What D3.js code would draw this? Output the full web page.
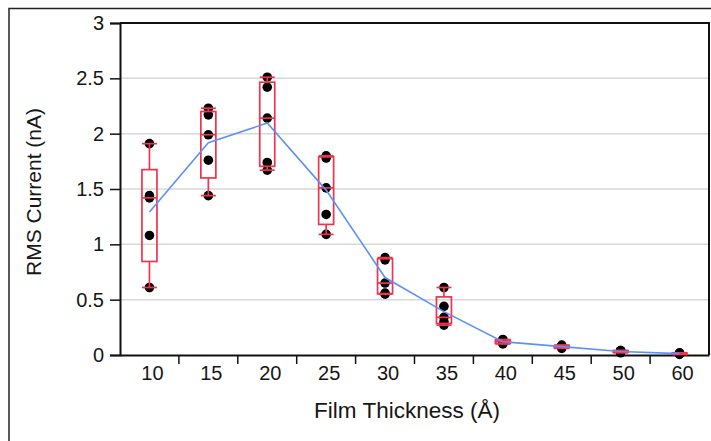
<!DOCTYPE html>
<html>
<head>
<meta charset="utf-8">
<script src="https://cdn.jsdelivr.net/npm/d3@7"></script>
<style>
  html, body { margin: 0; padding: 0; background: #fff; }
  svg { display: block; font-family: "Liberation Sans", Arial, sans-serif; }
</style>
</head>
<body>
<svg id="chart" width="711" height="441"></svg>
<script>
// ---- data ----
const categories = ["10", "15", "20", "25", "30", "35", "40", "45", "50", "60"];
const pts10 = [0.61, 1.08, 1.42, 1.44, 1.91];
const pts15 = [1.44, 1.76, 1.99, 2.17, 2.23];
const pts20 = [1.67, 1.74, 2.14, 2.42, 2.51];
const pts25 = [1.09, 1.27, 1.51, 1.78, 1.80];
const pts30 = [0.55, 0.56, 0.65, 0.86, 0.88];
const pts35 = [0.27, 0.30, 0.34, 0.44, 0.61];
const pts40 = [0.10, 0.11, 0.12, 0.13, 0.14];
const pts45 = [0.06, 0.07, 0.08, 0.08, 0.09];
const pts50 = [0.02, 0.03, 0.03, 0.04, 0.04];
const pts60 = [0.005, 0.01, 0.01, 0.015, 0.02];
const yTicks = [0, 0.5, 1, 1.5, 2, 2.5, 3];
const yTickLabels = ["0", "0.5", "1", "1.5", "2", "2.5", "3"];
const xTitle = "Film Thickness (Å)";
const yTitle = "RMS Current (nA)";

const allPoints = [pts10, pts15, pts20, pts25, pts30, pts35, pts40, pts45, pts50, pts60];

// (n+1)p quantile
function quant(sorted, p) {
  const n = sorted.length;
  let pos = (n + 1) * p;
  if (pos <= 1) return sorted[0];
  if (pos >= n) return sorted[n - 1];
  const lo = Math.floor(pos), f = pos - lo;
  return sorted[lo - 1] + f * (sorted[lo] - sorted[lo - 1]);
}
const stats = categories.map((c, i) => {
  const s = allPoints[i].slice().sort((a, b) => a - b);
  const q1 = quant(s, 0.25), med = quant(s, 0.5), q3 = quant(s, 0.75);
  const iqr = q3 - q1;
  const lo = d3.min(s.filter(v => v >= q1 - 1.5 * iqr));
  const hi = d3.max(s.filter(v => v <= q3 + 1.5 * iqr));
  return { cat: c, q1, med, q3, lo, hi, mean: d3.mean(s), pts: s };
});

// ---- layout ----
const svg = d3.select("#chart");
const L = 120, R = 709, T = 23, B = 355;
const x = d3.scaleBand().domain(categories).range([L, R]).padding(0);
const y = d3.scaleLinear().domain([0, 3]).range([B, T]);
const textColor = "#161616";
const boxColor = "#f0334f";
const lineColor = "#5d92f5";

// outer border
svg.append("path")
  .attr("d", `M9,441 V8.5 H711`)
  .attr("fill", "none").attr("stroke", "#222").attr("stroke-width", 1.5);

// gridlines
svg.append("g").selectAll("line")
  .data(yTicks.filter(v => v > 0 && v < 3))
  .join("line")
  .attr("x1", L).attr("x2", R)
  .attr("y1", d => y(d)).attr("y2", d => y(d))
  .attr("stroke", "#d8d8d8").attr("stroke-width", 1.5);

// frame top/right
svg.append("path")
  .attr("d", `M${L},${T} H${R} V${B}`)
  .attr("fill", "none").attr("stroke", "#111").attr("stroke-width", 2);

// y axis
const yAxis = d3.axisLeft(y).tickValues(yTicks)
  .tickFormat((d, i) => yTickLabels[i]).tickSize(10).tickPadding(6);
const gy = svg.append("g").attr("transform", `translate(${L},0)`).call(yAxis);
gy.select(".domain").attr("stroke", "#111").attr("stroke-width", 2);
gy.selectAll(".tick line").attr("stroke", "#111").attr("stroke-width", 1.5);
gy.selectAll("text").attr("font-size", 20).attr("fill", textColor)
  .attr("font-family", "Liberation Sans, Arial, sans-serif");

// x axis
const xAxis = d3.axisBottom(x).tickSize(0).tickPadding(11);
const gx = svg.append("g").attr("transform", `translate(0,${B})`).call(xAxis);
gx.select(".domain").attr("stroke", "#111").attr("stroke-width", 2);
gx.selectAll("text").attr("font-size", 20).attr("fill", textColor).attr("dx", 3)
  .attr("font-family", "Liberation Sans, Arial, sans-serif");
// boundary ticks between categories
gx.append("g").selectAll("line")
  .data(categories.slice(1))
  .join("line")
  .attr("x1", d => x(d)).attr("x2", d => x(d))
  .attr("y1", 0).attr("y2", 9)
  .attr("stroke", "#111").attr("stroke-width", 1.5);

// titles
svg.append("text")
  .attr("x", 407).attr("y", 418)
  .attr("text-anchor", "middle").attr("font-size", 22.5).attr("fill", textColor)
  .text(xTitle);
svg.append("text")
  .attr("transform", `translate(41,${(T + B) / 2 + 3}) rotate(-90)`)
  .attr("text-anchor", "middle").attr("font-size", 21).attr("fill", textColor)
  .text(yTitle);

// points (drawn beneath boxes)
svg.append("g").selectAll("g")
  .data(stats).join("g")
  .selectAll("circle")
  .data(s => s.pts.map(v => ({ cat: s.cat, v })))
  .join("circle")
  .attr("cx", d => x(d.cat) + x.bandwidth() / 2)
  .attr("cy", d => y(d.v))
  .attr("r", 4.8)
  .attr("fill", "#000");

// boxes
const bw = 15, cw = 15;
const gb = svg.append("g");
stats.forEach(s => {
  const cx = x(s.cat) + x.bandwidth() / 2;
  const g = gb.append("g").attr("stroke", boxColor).attr("stroke-width", 1.7).attr("fill", "none");
  g.append("line").attr("x1", cx).attr("x2", cx).attr("y1", y(s.q3)).attr("y2", y(s.hi));
  g.append("line").attr("x1", cx).attr("x2", cx).attr("y1", y(s.q1)).attr("y2", y(s.lo));
  g.append("line").attr("x1", cx - cw / 2).attr("x2", cx + cw / 2).attr("y1", y(s.hi)).attr("y2", y(s.hi));
  g.append("line").attr("x1", cx - cw / 2).attr("x2", cx + cw / 2).attr("y1", y(s.lo)).attr("y2", y(s.lo));
  g.append("rect").attr("x", cx - bw / 2).attr("width", bw)
    .attr("y", y(s.q3)).attr("height", Math.max(0.5, y(s.q1) - y(s.q3)));
  g.append("line").attr("x1", cx - bw / 2).attr("x2", cx + bw / 2).attr("y1", y(s.med)).attr("y2", y(s.med));
});

// mean line
svg.append("path")
  .datum(stats)
  .attr("fill", "none").attr("stroke", lineColor).attr("stroke-width", 1.6)
  .attr("d", d3.line().x(s => x(s.cat) + x.bandwidth() / 2).y(s => y(s.mean)));
</script>
</body>
</html>
